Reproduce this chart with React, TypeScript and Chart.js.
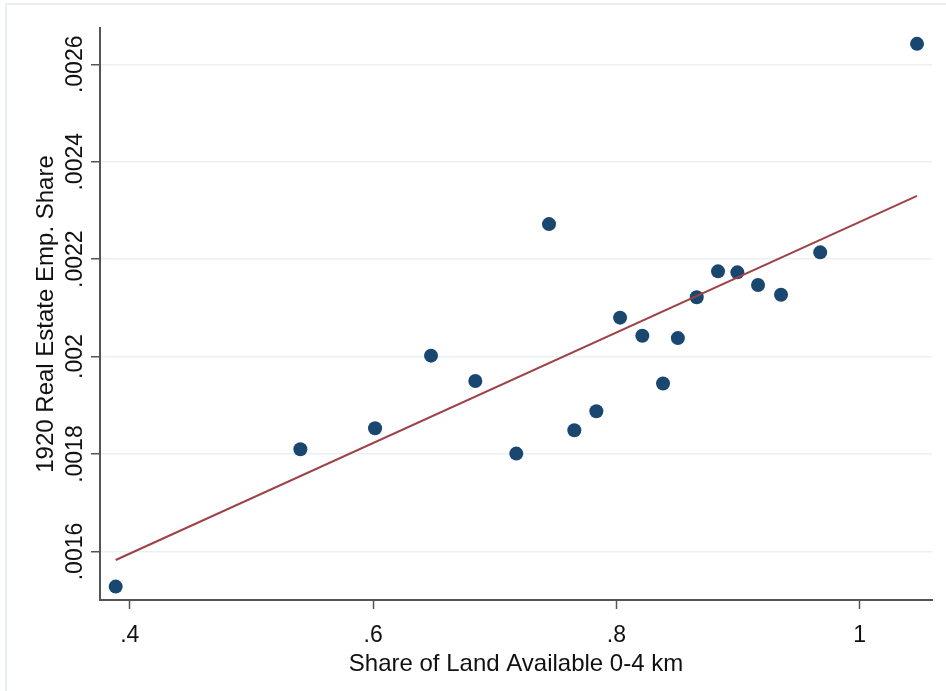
import React, { useEffect, useRef } from 'react';
import { Chart, registerables } from 'chart.js';

Chart.register(...registerables);

// Share of land available 0-4 km (x) vs 1920 real estate employment share (y)
const shareLand = [0.3884, 0.5402, 0.6016, 0.6476, 0.684, 0.7177, 0.7446, 0.7654, 0.7835, 0.803, 0.8213, 0.8383, 0.8505, 0.866, 0.8835, 0.8994, 0.9164, 0.9353, 0.9675, 1.0471];
const realEstateShare = [0.001528, 0.00181, 0.001853, 0.002002, 0.00195, 0.001801, 0.002272, 0.001849, 0.001888, 0.00208, 0.002043, 0.001945, 0.002038, 0.002122, 0.002175, 0.002173, 0.002147, 0.002127, 0.002214, 0.002642];

// Linear fit line endpoints
const fitX = [0.3884, 1.0471];
const fitY = [0.0015826, 0.00233];

const xTickValues = [0.4, 0.6, 0.8, 1.0];
const xTickLabels = ['.4', '.6', '.8', '1'];
const yTickValues = [0.0016, 0.0018, 0.002, 0.0022, 0.0024, 0.0026];
const yTickLabels = ['.0016', '.0018', '.002', '.0022', '.0024', '.0026'];

const xTitle = 'Share of Land Available 0-4 km';
const yTitle = '1920 Real Estate Emp. Share';

const FONT = '"Liberation Sans", Arial, sans-serif';
const TEXT = '#111111';

const framePlugin = {
  id: 'frame',
  beforeDraw(chart: any) {
    const ctx = chart.ctx;
    ctx.save();
    ctx.fillStyle = '#ffffff';
    ctx.fillRect(0, 0, chart.width, chart.height);
    ctx.strokeStyle = '#e6eef0';
    ctx.lineWidth = 2;
    ctx.beginPath();
    ctx.moveTo(6, chart.height + 2);
    ctx.lineTo(6, 4);
    ctx.lineTo(chart.width + 2, 4);
    ctx.stroke();
    ctx.restore();
  },
};

const yTickLabelPlugin = {
  id: 'yTickLabels',
  afterDraw(chart: any) {
    const ctx = chart.ctx;
    const ys = chart.scales.y;
    ctx.save();
    ctx.font = `23px ${FONT}`;
    ctx.fillStyle = TEXT;
    ctx.textAlign = 'center';
    ctx.textBaseline = 'alphabetic';
    ys.ticks.forEach((t: any) => {
      const py = ys.getPixelForValue(t.value);
      const idx = yTickValues.findIndex((v) => Math.abs(v - t.value) < 1e-9);
      const label = idx >= 0 ? yTickLabels[idx] : String(t.value);
      ctx.save();
      ctx.translate(82, py);
      ctx.rotate(-Math.PI / 2);
      ctx.fillText(label, 0, 0);
      ctx.restore();
    });
    ctx.restore();
  },
};

export default function App() {
  const ref = useRef<HTMLCanvasElement | null>(null);

  useEffect(() => {
    if (!ref.current) return;
    const points = shareLand.map((x, i) => ({ x, y: realEstateShare[i] }));
    const fit = fitX.map((x, i) => ({ x, y: fitY[i] }));

    const chart = new Chart(ref.current, {
      type: 'scatter',
      data: {
        datasets: [
          {
            type: 'line',
            label: 'Fitted values',
            data: fit,
            borderColor: '#9e4248',
            borderWidth: 2,
            pointRadius: 0,
            showLine: true,
            fill: false,
            order: 0,
          } as any,
          {
            label: '1920 Real Estate Emp. Share',
            data: points,
            backgroundColor: '#1a476f',
            borderColor: '#1a476f',
            borderWidth: 0,
            pointRadius: 7,
            order: 1,
          },
        ],
      },
      options: {
        responsive: false,
        animation: false,
        devicePixelRatio: 1,
        layout: { padding: { left: 0, top: 28, right: 14, bottom: 0 } },
        plugins: {
          legend: { display: false },
          tooltip: { enabled: false },
        },
        scales: {
          x: {
            type: 'linear',
            min: 0.3755,
            max: 1.0594,
            afterBuildTicks: (s: any) => {
              s.ticks = xTickValues.map((v) => ({ value: v }));
            },
            afterFit: (s: any) => {
              s.height = 91;
            },
            ticks: {
              font: { family: FONT, size: 23 },
              color: TEXT,
              padding: 13,
              maxRotation: 0,
              minRotation: 0,
              callback: (v: any) => {
                const idx = xTickValues.findIndex((t) => Math.abs(t - v) < 1e-9);
                return idx >= 0 ? xTickLabels[idx] : '';
              },
            },
            grid: {
              drawOnChartArea: false,
              drawTicks: true,
              tickLength: 9,
              tickColor: '#555555',
              tickWidth: 1.5,
            },
            border: { display: true, color: '#555555', width: 2 },
            title: {
              display: true,
              text: xTitle,
              font: { family: FONT, size: 24 },
              color: TEXT,
              padding: { top: 0, bottom: 12 },
            },
          },
          y: {
            type: 'linear',
            min: 0.0015005,
            max: 0.0026745,
            afterBuildTicks: (s: any) => {
              s.ticks = yTickValues.map((v) => ({ value: v }));
            },
            afterFit: (s: any) => {
              s.width = 100;
            },
            ticks: { display: false },
            grid: {
              drawOnChartArea: true,
              color: '#eaf1f3',
              lineWidth: 1.5,
              drawTicks: true,
              tickLength: 9,
              tickColor: '#555555',
              tickWidth: 1.5,
            },
            border: { display: true, color: '#555555', width: 2 },
            title: {
              display: true,
              text: yTitle,
              font: { family: FONT, size: 24 },
              color: TEXT,
              padding: { top: 32, bottom: 0 },
            },
          },
        },
      },
      plugins: [framePlugin, yTickLabelPlugin],
    } as any);

    return () => chart.destroy();
  }, []);

  return (
    <div style={{ position: 'fixed', left: 0, top: 0, width: 946, height: 691, background: '#fff' }}>
      <canvas ref={ref} width={946} height={691} style={{ display: 'block', width: 946, height: 691 }} />
    </div>
  );
}
